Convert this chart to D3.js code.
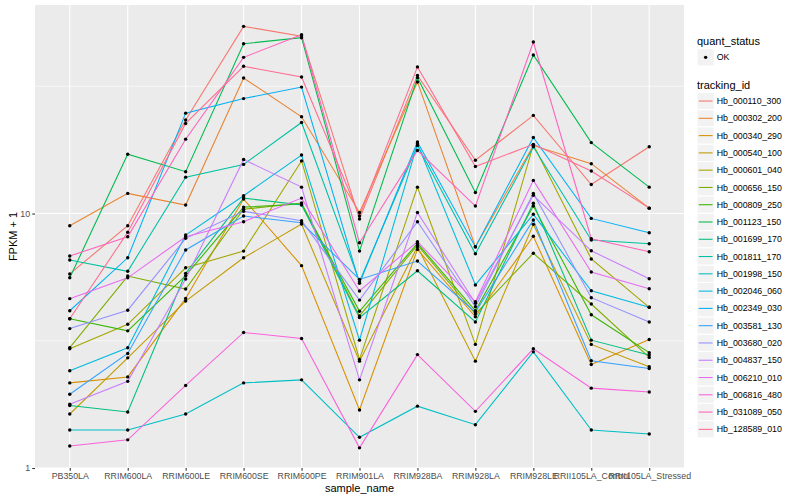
<!DOCTYPE html>
<html>
<head>
<meta charset="utf-8">
<script src="https://cdn.jsdelivr.net/npm/d3@7"></script>
<style>
  body { margin: 0; background: #fff; }
  text { font-family: "Liberation Sans", Arial, Helvetica, sans-serif; }
</style>
</head>
<body>
<div id="chart"></div>
<script>
// 表达量折线图 (FPKM + 1, log10)

    let samples = ['PB350LA', 'RRIM600LA', 'RRIM600LE', 'RRIM600SE', 'RRIM600PE', 'RRIM901LA',
        'RRIM928BA', 'RRIM928LA', 'RRIM928LE', 'RRII105LA_Control', 'RRII105LA_Stressed'];
    let trackingIds = ['Hb_000110_300', 'Hb_000302_200', 'Hb_000340_290', 'Hb_000540_100', 'Hb_000601_040',
        'Hb_000656_150', 'Hb_000809_250', 'Hb_001123_150', 'Hb_001699_170', 'Hb_001811_170',
        'Hb_001998_150', 'Hb_002046_060', 'Hb_002349_030', 'Hb_003581_130', 'Hb_003680_020',
        'Hb_004837_150', 'Hb_006210_010', 'Hb_006816_480', 'Hb_031089_050', 'Hb_128589_010'];
    let quantStatus = ['OK'];

    // FPKM + 1 per sample, one array per gene
    let hb_000110_300 = [5.79, 8.96, 23.3, 54.4, 49.8, 9.52, 34.9, 16.2, 24.3, 13.0, 18.3];
    let hb_000302_200 = [8.96, 12.0, 10.8, 34.1, 24.0, 10.1, 32.9, 7.41, 18.5, 15.7, 10.5];
    let hb_000340_290 = [2.16, 2.28, 4.64, 11.4, 6.24, 1.69, 7.23, 3.93, 8.14, 2.55, 3.20];
    let hb_000540_100 = [1.63, 2.71, 4.53, 6.70, 9.09, 2.63, 7.41, 2.63, 9.07, 3.06, 2.50];
    let hb_000601_040 = [2.94, 3.67, 6.12, 7.12, 16.1, 2.67, 12.7, 3.06, 18.6, 6.63, 4.28];
    let hb_000656_150 = [2.97, 5.68, 5.05, 10.4, 11.0, 3.96, 7.52, 4.03, 6.98, 4.41, 2.72];
    let hb_000809_250 = [3.86, 3.46, 5.70, 10.6, 10.9, 4.13, 7.64, 4.15, 10.7, 4.00, 2.84];
    let hb_001123_150 = [5.59, 17.1, 14.6, 46.5, 49.1, 7.12, 34.2, 12.1, 42.0, 19.0, 12.7];
    let hb_001699_170 = [1.76, 1.66, 5.82, 11.5, 10.8, 3.90, 5.96, 3.75, 10.97, 3.18, 2.78];
    let hb_001811_170 = [6.57, 5.93, 13.9, 15.6, 22.8, 5.40, 18.5, 6.95, 18.3, 7.87, 7.61];
    let hb_001998_150 = [1.41, 1.41, 1.63, 2.16, 2.22, 1.32, 1.75, 1.48, 2.86, 1.41, 1.36];
    let hb_002046_060 = [2.41, 2.97, 8.23, 11.75, 16.98, 3.18, 18.8, 5.24, 9.93, 4.97, 4.28];
    let hb_002349_030 = [4.15, 6.70, 24.8, 28.3, 31.4, 5.32, 19.1, 7.39, 19.9, 9.57, 8.41];
    let hb_003581_130 = [1.95, 2.82, 7.19, 9.78, 9.20, 5.51, 6.51, 4.10, 9.43, 2.64, 2.46];
    let hb_003680_020 = [3.53, 4.17, 7.99, 10.2, 9.37, 4.57, 9.29, 4.30, 12.0, 4.67, 3.75];
    let hb_004837_150 = [1.78, 2.19, 5.53, 16.3, 12.7, 2.22, 10.1, 4.44, 11.8, 7.14, 5.54];
    let hb_006210_010 = [4.63, 5.59, 8.11, 9.29, 11.5, 4.96, 7.75, 4.50, 13.5, 5.89, 5.06];
    let hb_006816_480 = [1.22, 1.29, 2.11, 3.41, 3.23, 1.20, 2.79, 1.67, 2.94, 2.06, 1.99];
    let hb_031089_050 = [6.81, 8.11, 19.6, 41.1, 50.4, 7.68, 17.7, 10.7, 47.2, 7.96, 7.08];
    let hb_128589_010 = [3.86, 8.44, 22.6, 37.9, 34.4, 9.78, 37.7, 15.3, 18.7, 14.7, 10.5];

    let yTicks = [1, 10];
    let yMinor = [Math.sqrt(10), Math.pow(10, 1.5)];
    let yLimits = [1, 66];

    let seriesValues = [hb_000110_300, hb_000302_200, hb_000340_290, hb_000540_100, hb_000601_040,
        hb_000656_150, hb_000809_250, hb_001123_150, hb_001699_170, hb_001811_170,
        hb_001998_150, hb_002046_060, hb_002349_030, hb_003581_130, hb_003680_020,
        hb_004837_150, hb_006210_010, hb_006816_480, hb_031089_050, hb_128589_010];

    // ggplot 默认色盘 (hue_pal, 20)
    let colors = ['#F8766D', '#EA8331', '#D89000', '#C09B00', '#A3A500', '#7CAE00', '#39B600', '#00BB4E',
        '#00BF7D', '#00C1A3', '#00BFC4', '#00BAE0', '#00B0F6', '#35A2FF', '#9590FF', '#C77CFF',
        '#E76BF3', '#FA62DB', '#FF62BC', '#FF6C91'];

    let svgAttr = {width: 800, height: 500};
    let panel = {left: 35, right: 684, top: 5, bottom: 468};

    let svg = d3.select('#chart').append('svg')
        .attr('width', svgAttr.width).attr('height', svgAttr.height);

    //X轴比例尺
    let xScale = d3.scalePoint().domain(samples).range([panel.left, panel.right]).padding(0.6);
    //Y轴比例尺 (log)
    let yScale = d3.scaleLog().domain(yLimits).range([panel.bottom, panel.top]);

    // panel
    svg.append('rect').attr('x', panel.left).attr('y', panel.top)
        .attr('width', panel.right - panel.left).attr('height', panel.bottom - panel.top)
        .attr('fill', '#EBEBEB');

    let grid = svg.append('g');
    grid.selectAll('.minor').data(yMinor).enter().append('line')
        .attr('x1', panel.left).attr('x2', panel.right)
        .attr('y1', d => yScale(d)).attr('y2', d => yScale(d))
        .attr('stroke', '#fff').attr('stroke-width', 0.55);
    grid.selectAll('.majory').data(yTicks).enter().append('line')
        .attr('x1', panel.left).attr('x2', panel.right)
        .attr('y1', d => yScale(d)).attr('y2', d => yScale(d))
        .attr('stroke', '#fff').attr('stroke-width', 1.07);
    grid.selectAll('.majorx').data(samples).enter().append('line')
        .attr('x1', d => xScale(d)).attr('x2', d => xScale(d))
        .attr('y1', panel.top).attr('y2', panel.bottom)
        .attr('stroke', '#fff').attr('stroke-width', 1.07);

    // lines
    let line = d3.line().x((d, i) => xScale(samples[i])).y(d => yScale(d));
    svg.append('g').selectAll('path').data(seriesValues).enter().append('path')
        .attr('d', d => line(d))
        .attr('fill', 'none')
        .attr('stroke', (d, i) => colors[i])
        .attr('stroke-width', 1.07);

    // points
    let pts = [];
    seriesValues.forEach(function (s) {
        s.forEach(function (v, j) { pts.push({x: samples[j], y: v}); });
    });
    svg.append('g').selectAll('circle').data(pts).enter().append('circle')
        .attr('cx', d => xScale(d.x)).attr('cy', d => yScale(d.y))
        .attr('r', 1.7).attr('fill', '#000');

    // axes
    let xAxis = d3.axisBottom(xScale).tickSize(2.75).tickPadding(2.2);
    let yAxis = d3.axisLeft(yScale).tickValues(yTicks).tickFormat(d3.format('d')).tickSize(2.75).tickPadding(2.2);

    let gx = svg.append('g').attr('transform', 'translate(0,' + panel.bottom + ')').call(xAxis);
    let gy = svg.append('g').attr('transform', 'translate(' + panel.left + ',0)').call(yAxis);
    [gx, gy].forEach(function (g) {
        g.select('.domain').remove();
        g.selectAll('line').attr('stroke', '#333333').attr('stroke-width', 1.07);
        g.selectAll('text').attr('fill', '#4D4D4D').attr('font-size', '8.8px')
            .style('font-family', '"Liberation Sans", Arial, sans-serif');
    });

    svg.append('text').attr('x', (panel.left + panel.right) / 2).attr('y', 492)
        .attr('text-anchor', 'middle').attr('font-size', '11px').attr('fill', '#000')
        .text('sample_name');
    svg.append('text').attr('transform', 'translate(17,' + ((panel.top + panel.bottom) / 2) + ') rotate(-90)')
        .attr('text-anchor', 'middle').attr('font-size', '11px').attr('fill', '#000')
        .text('FPKM + 1');

    // legend: quant_status
    let legendX = 697;
    let keySize = 17.28;
    let lg1 = svg.append('g').attr('transform', 'translate(' + legendX + ',0)');
    lg1.append('text').attr('x', 0).attr('y', 44.5).attr('font-size', '11px').text('quant_status');
    let k1 = lg1.selectAll('g').data(quantStatus).enter().append('g')
        .attr('transform', (d, i) => 'translate(0,' + (48.7 + i * keySize) + ')');
    k1.append('rect').attr('width', keySize).attr('height', keySize)
        .attr('fill', '#F2F2F2').attr('stroke', '#fff').attr('stroke-width', 1.07);
    k1.append('circle').attr('cx', keySize / 2).attr('cy', keySize / 2).attr('r', 1.7).attr('fill', '#000');
    k1.append('text').attr('x', keySize + 2.5).attr('y', keySize / 2 + 3.1)
        .attr('font-size', '8.8px').attr('fill', '#000').text(d => d);

    // legend: tracking_id
    let lg2 = svg.append('g').attr('transform', 'translate(' + legendX + ',0)');
    lg2.append('text').attr('x', 0).attr('y', 89).attr('font-size', '11px').text('tracking_id');
    let k2 = lg2.selectAll('g').data(trackingIds).enter().append('g')
        .attr('transform', (d, i) => 'translate(0,' + (92.4 + i * keySize) + ')');
    k2.append('rect').attr('width', keySize).attr('height', keySize)
        .attr('fill', '#F2F2F2').attr('stroke', '#fff').attr('stroke-width', 1.07);
    k2.append('line').attr('x1', 1.7).attr('x2', keySize - 1.7)
        .attr('y1', keySize / 2).attr('y2', keySize / 2)
        .attr('stroke', (d, i) => colors[i]).attr('stroke-width', 1.07);
    k2.append('text').attr('x', keySize + 2.5).attr('y', keySize / 2 + 3.1)
        .attr('font-size', '8.8px').attr('fill', '#000').text(d => d);
</script>
</body>
</html>
